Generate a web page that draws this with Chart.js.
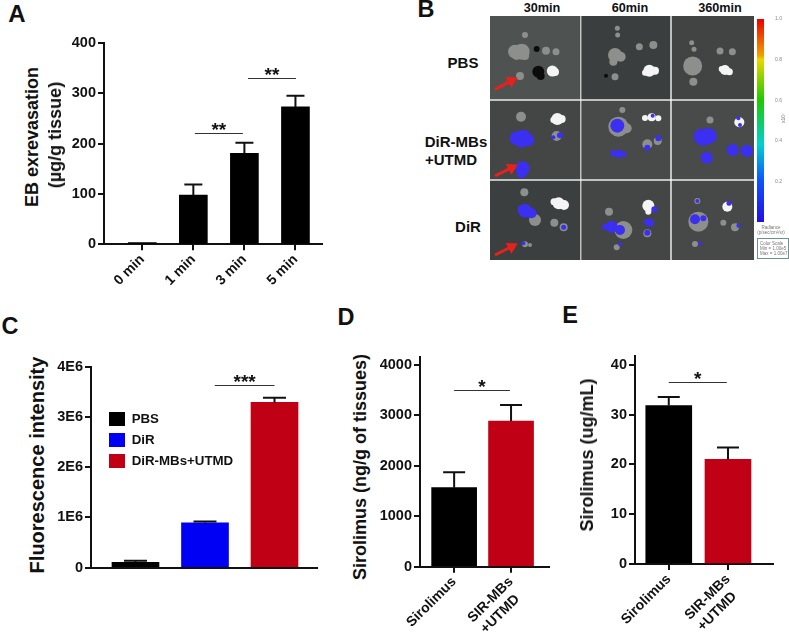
<!DOCTYPE html>
<html>
<head>
<meta charset="utf-8">
<title>Panels A-E</title>
<script src="https://cdn.jsdelivr.net/npm/chart.js@4"></script>
<style>
  html, body { margin: 0; background: #fff; }
  #page { position: relative; width: 789px; height: 634px; overflow: hidden; }
  canvas { position: absolute; }
  .txt { position: absolute; white-space: pre; color: #111; font-family: "Liberation Sans", Arial, sans-serif; font-weight: bold; transform: translate(-50%, -50%); line-height: 1; }
</style>
</head>
<body>
<div id="page"></div>
<script>
// panel A
var aCategories = ['0 min', '1 min', '3 min', '5 min'];
var aValues = [3.5, 98, 181, 273];
var aErrors = [0, 21, 21, 22];
var aTicks = [0, 100, 200, 300, 400];
var aSigFrom = [1.03, 2.07];
var aSigTo = [1.97, 3.01];
var aSigValue = [221, 331];
var aSigText = ['**', '**'];

// panel C
var cSeries = ['PBS', 'DiR', 'DiR-MBs+UTMD'];
var cValues = [107000, 895000, 3290000];
var cErrors = [33000, 25000, 90000];
var cTicks = [0, 1000000, 2000000, 3000000, 4000000];
var cTickLabels = ['0', '1E6', '2E6', '3E6', '4E6'];

// panel D
var dCategories = ['Sirolimus', ['SIR-MBs', '+UTMD\u00a0\u00a0']];
var dValues = [1567, 2890];
var dErrors = [305, 317];
var dTicks = [0, 1000, 2000, 3000, 4000];

// panel E
var eCategories = ['Sirolimus', ['SIR-MBs', '+UTMD\u00a0\u00a0']];
var eValues = [31.8, 21];
var eErrors = [1.7, 2.4];
var eTicks = [0, 10, 20, 30, 40];

// panel B, tissue blobs as [x, y, radius]
var imgColumns = [[240, 511], [514, 781], [785, 1032]];
var imgRows = [[48, 298], [302, 538], [542, 780]];
var imgShades = [['#4e5352', '#3b3e3e', '#414443'], ['#434645', '#474a49', '#484b4a'], ['#3c3f3f', '#434645', '#464948']];
var whiteBlobs = [[427, 213, 5.5], [435, 216, 4], [718, 212, 6], [735, 212, 4], [705, 218, 3], [945, 210, 5], [958, 215, 3.5], [935, 207, 3],
  [442, 357, 6], [455, 357, 4], [430, 360, 3], [725, 352, 4], [705, 354, 3], [745, 355, 3], [988, 367, 5],
  [446, 610, 6], [462, 615, 5], [432, 605, 3.5], [715, 617, 6], [715, 635, 3], [952, 620, 5]];
var grayBlobs = [[315, 155, 7], [335, 155, 8], [345, 168, 4], [320, 165, 5], [345, 105, 3], [408, 152, 4], [438, 155, 3.5], [330, 228, 4],
  [622, 85, 2.5], [623, 105, 2.5], [688, 140, 3.5], [730, 135, 4], [615, 165, 7], [632, 170, 5], [610, 185, 4], [615, 230, 3.5],
  [845, 128, 2.5], [852, 148, 2.5], [930, 153, 3.5], [967, 155, 3.5], [848, 198, 9.5], [850, 245, 4],
  [333, 350, 5], [440, 408, 5], [637, 330, 3], [625, 380, 10], [650, 385, 5], [625, 400, 3], [712, 433, 5], [743, 423, 4], [900, 360, 3.5],
  [343, 577, 4], [375, 660, 6], [433, 668, 4], [461, 682, 4], [345, 733, 3], [360, 735, 2],
  [597, 635, 4], [640, 690, 9], [712, 700, 4], [620, 742, 3], [862, 603, 3], [865, 665, 10], [940, 668, 3], [975, 682, 4], [855, 732, 3]];
var darkBlobs = [[385, 215, 6], [392, 228, 4], [380, 147, 3], [588, 227, 2]];
var blueBlobs = [[320, 415, 7], [340, 413, 8], [355, 420, 6], [335, 425, 6], [450, 406, 3], [430, 412, 2], [338, 505, 7], [335, 520, 5],
  [728, 347, 2], [622, 377, 7], [712, 443, 3], [745, 415, 3], [625, 461, 4], [610, 460, 3], [640, 463, 3],
  [985, 355, 2], [990, 375, 2], [875, 410, 8], [895, 408, 8], [905, 412, 5], [880, 420, 6], [890, 473, 6], [968, 450, 6], [1010, 452, 6], [1020, 458, 3],
  [345, 632, 7], [335, 628, 4], [365, 640, 5], [461, 682, 2.5], [340, 730, 2],
  [733, 628, 3], [605, 680, 6], [585, 680, 3], [630, 690, 5], [720, 668, 4], [710, 665, 3], [712, 698, 3], [630, 733, 2],
  [862, 603, 2], [957, 610, 2.5], [855, 658, 5], [880, 655, 3], [985, 677, 2], [870, 730, 2]];
var arrowRows = [[255, 268, 305, 242], [255, 528, 305, 503], [255, 765, 305, 740]];

// colour bar
var barTicks = [0.2, 0.4, 0.6, 0.8, 1.0];

var FONT = '"Liberation Sans", Arial, sans-serif';
var page = document.getElementById('page');

Chart.defaults.font.family = FONT;
Chart.defaults.color = '#111';
Chart.defaults.animation = false;

function addText(text, x, y, size, rotate, extra) {
  var el = document.createElement('div');
  el.className = 'txt';
  el.textContent = text;
  el.style.left = x + 'px';
  el.style.top = y + 'px';
  el.style.fontSize = size + 'px';
  if (rotate) el.style.transform = 'translate(-50%, -50%) rotate(' + rotate + 'deg)';
  if (extra) Object.assign(el.style, extra);
  page.appendChild(el);
  return el;
}

function addCanvas(box) {
  var c = document.createElement('canvas');
  c.width = box.right - box.left;
  c.height = box.bottom - box.top;
  c.style.left = box.left + 'px';
  c.style.top = box.top + 'px';
  page.appendChild(c);
  return c;
}

var errorBars = {
  id: 'errorBars',
  afterDatasetsDraw: function (chart, args, opts) {
    var ctx = chart.ctx, y = chart.scales.y, k = 0;
    ctx.save();
    ctx.strokeStyle = '#111';
    ctx.lineWidth = opts.width || 2;
    chart.data.datasets.forEach(function (ds, i) {
      chart.getDatasetMeta(i).data.forEach(function (bar, j) {
        var err = opts.errors[k], val = ds.data[j].y;
        k++;
        if (!err) return;
        var top = y.getPixelForValue(val + err);
        ctx.beginPath();
        ctx.moveTo(bar.x, y.getPixelForValue(val));
        ctx.lineTo(bar.x, top);
        ctx.moveTo(bar.x - opts.cap / 2, top);
        ctx.lineTo(bar.x + opts.cap / 2, top);
        ctx.stroke();
      });
    });
    ctx.restore();
  }
};

var sigLines = {
  id: 'sigLines',
  afterDraw: function (chart, args, opts) {
    var ctx = chart.ctx, xs = chart.scales.x, ys = chart.scales.y;
    if (!opts.text) return;
    ctx.save();
    opts.text.forEach(function (t, i) {
      var x1 = xs.getPixelForValue(opts.from[i]), x2 = xs.getPixelForValue(opts.to[i]);
      var py = Math.round(ys.getPixelForValue(opts.value[i])) + 0.5;
      ctx.strokeStyle = '#333';
      ctx.lineWidth = 1;
      ctx.beginPath();
      ctx.moveTo(x1, py);
      ctx.lineTo(x2, py);
      ctx.stroke();
      ctx.fillStyle = '#111';
      ctx.font = 'bold 19px ' + FONT;
      ctx.textAlign = 'center';
      ctx.textBaseline = 'alphabetic';
      ctx.fillText(t, (x1 + x2) / 2, py + 2);
    });
    ctx.restore();
  }
};

// moves the chartArea legend to a set spot inside the plot
var legendSpot = {
  id: 'legendSpot',
  afterLayout: function (chart, args, opts) {
    if (!chart.legend || opts.left === undefined) return;
    var w = chart.legend.width, h = chart.legend.height;
    chart.legend.left = opts.left;
    chart.legend.top = opts.top;
    chart.legend.right = opts.left + w;
    chart.legend.bottom = opts.top + h;
  }
};

// bar panel with its plot area pinned to page pixels
function barPanel(box, plot, cfg) {
  return new Chart(addCanvas(box), {
    type: 'bar',
    plugins: [errorBars, sigLines, legendSpot],
    data: { datasets: cfg.datasets },
    options: {
      responsive: false,
      layout: { padding: { top: plot.top - box.top, right: box.right - plot.right, left: 0, bottom: 0 } },
      plugins: {
        legend: cfg.legend || { display: false },
        tooltip: { enabled: false },
        errorBars: { errors: cfg.errors, cap: cfg.cap },
        sigLines: cfg.sig || {},
        legendSpot: cfg.legendSpot || {}
      },
      scales: {
        x: {
          type: 'linear', offset: false, min: cfg.xMin, max: cfg.xMax,
          afterBuildTicks: function (s) {
            s.ticks = cfg.xLabels ? cfg.xLabels.map(function (l, i) { return { value: i }; }) : [];
          },
          afterFit: function (s) { s.height = box.bottom - plot.bottom; },
          border: { color: '#111', width: 2 },
          grid: { offset: false, drawOnChartArea: false, color: '#111', lineWidth: 2, tickLength: 6, drawTicks: !!cfg.xLabels },
          ticks: {
            display: !!cfg.xLabels, autoSkip: false, maxRotation: 45, minRotation: 45, padding: 1, color: '#111',
            font: { size: 14, weight: 'bold' },
            callback: function (v) { return cfg.xLabels[v]; }
          }
        },
        y: {
          min: 0, max: cfg.yMax,
          afterBuildTicks: function (s) { s.ticks = cfg.yTicks.map(function (v) { return { value: v }; }); },
          afterFit: function (s) { s.width = plot.left - box.left; },
          border: { color: '#111', width: 2 },
          grid: { drawOnChartArea: false, color: '#111', lineWidth: 2, tickLength: 6 },
          ticks: {
            padding: 2, color: '#111', font: { size: 14.5, weight: 'bold' },
            callback: cfg.yFormat || function (v) { return v; }
          }
        }
      }
    }
  });
}

function oneSeries(values, colors) {
  return [{
    data: values.map(function (v, i) { return { x: i, y: v }; }),
    backgroundColor: colors,
    barThickness: 28
  }];
}

// A
var aSet = oneSeries(aValues, '#000');
barPanel({ left: 60, top: 30, right: 335, bottom: 300 }, { left: 104, top: 43, right: 322, bottom: 244.3 }, {
  datasets: aSet, errors: aErrors, cap: 18, xMin: -0.75, xMax: 3.52, xLabels: aCategories, yMax: 400, yTicks: aTicks,
  sig: { from: aSigFrom, to: aSigTo, value: aSigValue, text: aSigText }
});

// C
var cColors = ['#000000', '#0000f5', '#c00014'];
var cSet = cSeries.map(function (name, i) {
  return { label: name, data: [{ x: i, y: cValues[i] }], backgroundColor: cColors[i], barThickness: 47, grouped: false };
});
barPanel({ left: 50, top: 350, right: 330, bottom: 580 }, { left: 91, top: 366.7, right: 316.7, bottom: 567.7 }, {
  datasets: cSet, errors: cErrors, cap: 23, xMin: -0.64, xMax: 2.607, yMax: 4000000, yTicks: cTicks,
  yFormat: function (v) { return cTickLabels[cTicks.indexOf(v)]; },
  sig: { from: [1.14], to: [2.0], value: [3640000], text: ['***'] },
  legend: {
    position: 'chartArea', align: 'start',
    labels: { boxWidth: 16, boxHeight: 14, padding: 7, color: '#111', font: { size: 13.3, weight: 'bold' } }
  },
  legendSpot: { left: 52, top: 55 }
});

// D
barPanel({ left: 375, top: 345, right: 560, bottom: 634 }, { left: 420, top: 356.7, right: 549, bottom: 566.7 }, {
  datasets: oneSeries(dValues, ['#000', '#c00014']).map(function (d) { d.barThickness = 45; return d; }),
  errors: dErrors, cap: 22, xMin: -0.6, xMax: 1.667, xLabels: dCategories, yMax: 4165, yTicks: dTicks,
  sig: { from: [0], to: [0.98], value: [3498], text: ['*'] }
});

// E
barPanel({ left: 595, top: 345, right: 785, bottom: 634 }, { left: 635, top: 353.3, right: 773.3, bottom: 564 }, {
  datasets: oneSeries(eValues, ['#000', '#c00014']).map(function (d) { d.barThickness = 46; return d; }),
  errors: eErrors, cap: 22, xMin: -0.57, xMax: 1.765, xLabels: eCategories, yMax: 41.8, yTicks: eTicks,
  sig: { from: [0], to: [0.98], value: [36.5], text: ['*'] }
});

// B, imaging grid drawn as a bubble chart over grey cells
function blobSet(list, color) {
  return {
    type: 'bubble', backgroundColor: color, borderWidth: 0,
    data: list.map(function (b) { return { x: b[0], y: b[1], r: b[2] }; })
  };
}

var imgCells = {
  id: 'imgCells',
  beforeDatasetsDraw: function (chart) {
    var ctx = chart.ctx, xs = chart.scales.x, ys = chart.scales.y;
    ctx.save();
    imgRows.forEach(function (r, i) {
      imgColumns.forEach(function (c, j) {
        ctx.fillStyle = imgShades[i][j];
        ctx.fillRect(xs.getPixelForValue(c[0]), ys.getPixelForValue(r[0]),
          xs.getPixelForValue(c[1]) - xs.getPixelForValue(c[0]), ys.getPixelForValue(r[1]) - ys.getPixelForValue(r[0]));
      });
    });
    ctx.restore();
  }
};

var arrowSets = arrowRows.map(function (a) {
  return {
    type: 'line', data: [{ x: a[0], y: a[1] }, { x: a[2], y: a[3] }],
    borderColor: '#e8211c', borderWidth: 3, backgroundColor: '#e8211c',
    pointStyle: 'triangle', pointRadius: [0, 4], pointRotation: 62
  };
});

new Chart(addCanvas({ left: 490, top: 16, right: 755, bottom: 261 }), {
  type: 'bubble',
  plugins: [imgCells],
  data: {
    datasets: arrowSets.concat([
      blobSet(blueBlobs, '#3b2ff2'),
      blobSet(darkBlobs, '#0c0c0c'),
      blobSet(whiteBlobs, '#f4f4f4'),
      blobSet(grayBlobs, '#8d8f8d')
    ])
  },
  options: {
    responsive: false,
    layout: { padding: 0, autoPadding: false },
    plugins: { legend: { display: false }, tooltip: { enabled: false } },
    scales: {
      x: { type: 'linear', display: false, min: 240, max: 1035 },
      y: { type: 'linear', display: false, min: 48, max: 783, reverse: true }
    }
  }
});

// colour bar, red at the top down to blue
var rainbow = [[0, '#e80000'], [0.18, '#f0a000'], [0.2, '#e8d800'], [0.4, '#20c800'], [0.62, '#00d0d0'], [0.8, '#1050ff'], [1, '#2010e0']];
new Chart(addCanvas({ left: 750, top: 10, right: 789, bottom: 232 }), {
  type: 'bar',
  data: {
    labels: ['Radiance'],
    datasets: [{
      data: [1], barPercentage: 1, categoryPercentage: 1,
      backgroundColor: function (c) {
        var area = c.chart.chartArea;
        if (!area) return '#00f';
        var g = c.chart.ctx.createLinearGradient(0, area.top, 0, area.bottom);
        rainbow.forEach(function (s) { g.addColorStop(s[0], s[1]); });
        return g;
      }
    }]
  },
  options: {
    responsive: false,
    layout: { padding: { top: 9, left: 7, bottom: 10, right: 0 } },
    plugins: { legend: { display: false }, tooltip: { enabled: false } },
    scales: {
      x: { display: false },
      y: {
        position: 'right', min: 0, max: 1,
        afterBuildTicks: function (s) { s.ticks = barTicks.map(function (v) { return { value: v }; }); },
        afterFit: function (s) { s.width = 25; },
        border: { display: false },
        grid: { display: false },
        ticks: { color: '#888', padding: 3, font: { size: 5 }, callback: function (v) { return v.toFixed(1); } }
      }
    }
  }
});

// text
addText('A', 17, 14, 24);
addText('B', 426, 10, 23.5);
addText('C', 10, 327, 23.5);
addText('D', 346, 318, 23.5);
addText('E', 570, 316, 23.5);

addText('EB exrevasation', 32, 137, 18, -90);
addText('(\u00b5g/g tissue)', 55, 135, 18, -90);
addText('Fluorescence intensity', 37, 465, 20, -90);
addText('Sirolimus (ng/g of tissues)', 360, 467, 18, -90);
addText('Sirolimus (ug/mL)', 587, 455, 18, -90);

addText('30min', 542, 8, 12.7);
addText('60min', 630, 8, 12.7);
addText('360min', 720, 8, 12.7);
addText('PBS', 463, 62, 15);
addText('DiR-MBs', 456, 141, 15);
addText('+UTMD', 425, 159, 15, 0, { transform: 'translate(0, -50%)' });
addText('DiR', 468, 226, 15);

var grey = { color: '#777', fontWeight: 'normal' };
addText('x10\u2077', 783, 118, 5, -90, grey);
addText('Radiance', 771, 228, 4.5, 0, grey);
addText('(p/sec/cm\u00b2/sr)', 771, 232.5, 4.5, 0, grey);
var scaleBox = addText('Color Scale\nMin = 1.00e5\nMax = 1.00e7', 757, 238, 4.5, 0, grey);
scaleBox.style.transform = 'none';
scaleBox.style.border = '1px solid #6f9090';
scaleBox.style.padding = '2px';
scaleBox.style.width = '26px';
scaleBox.style.lineHeight = '5px';
</script>
</body>
</html>
